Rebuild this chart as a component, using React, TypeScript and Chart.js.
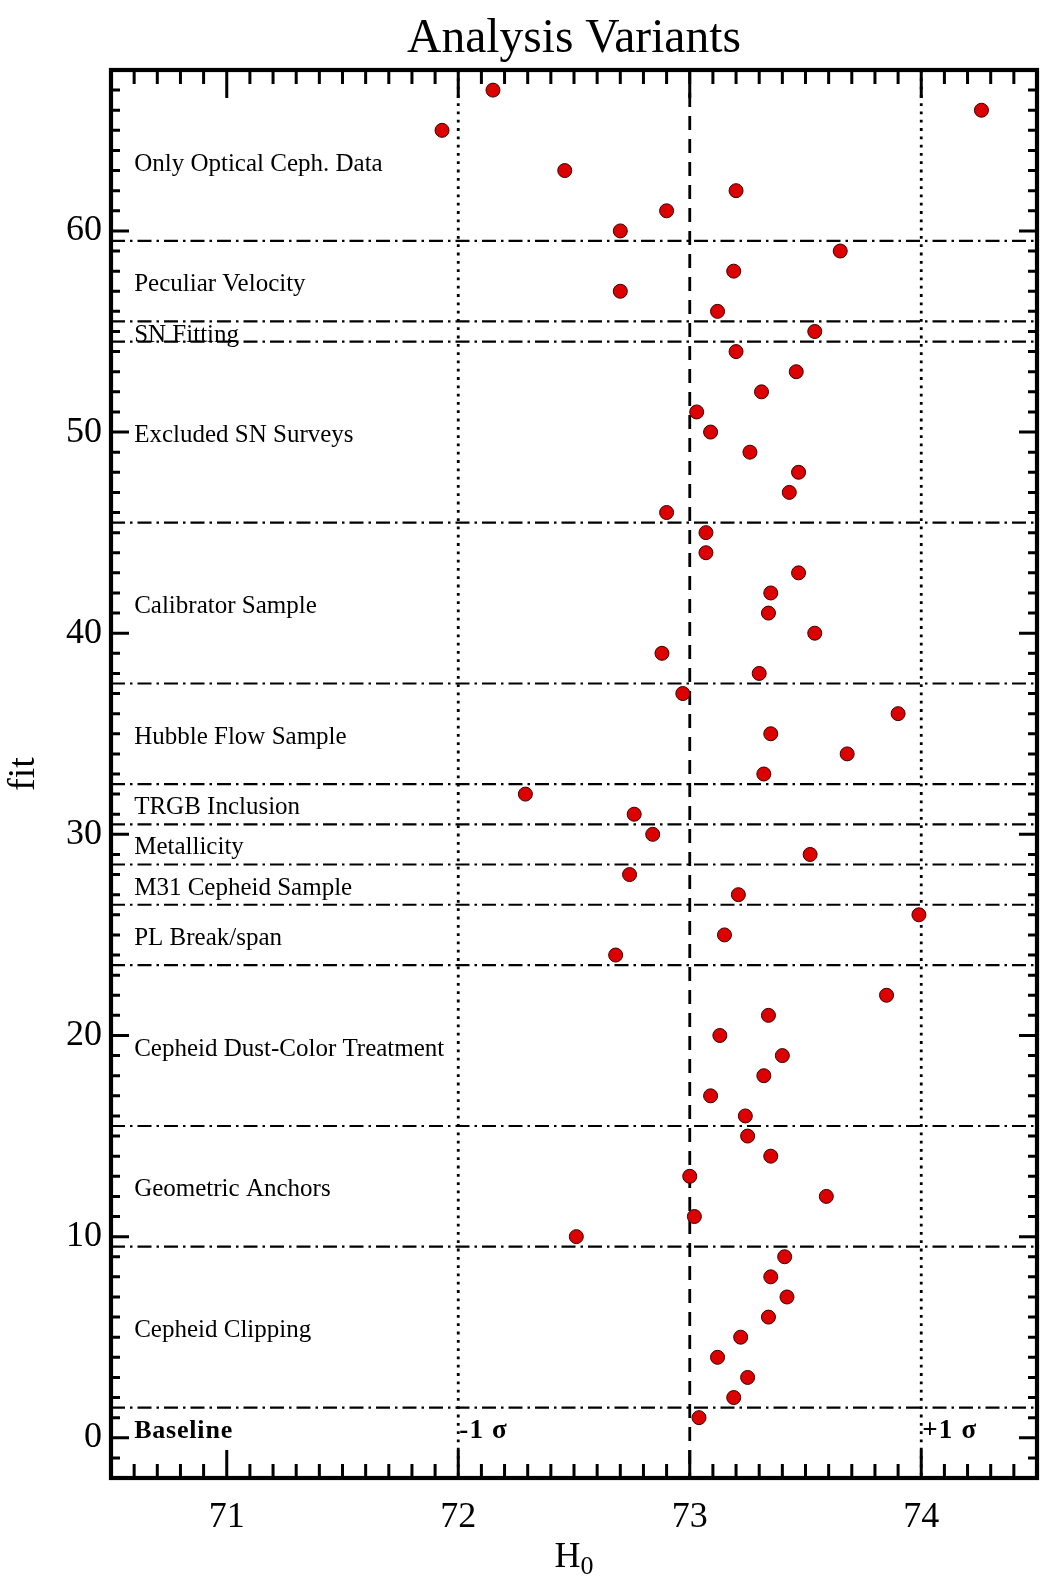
import React, { useEffect, useRef } from 'react';
import { Chart, registerables } from 'chart.js';

Chart.register(...registerables);

// ---- data ----
const fitNumbers = [
  1, 2, 3, 4, 5, 6, 7, 8, 9, 10, 11, 12, 13, 14, 15, 16, 17, 18, 19, 20, 21, 22,
  24, 25, 26, 27, 28, 29, 30, 31, 32, 33, 34, 35, 36, 37, 38, 39, 40, 41, 42, 43,
  44, 45, 46, 47, 48, 49, 50, 51, 52, 53, 54, 55, 56, 57, 58, 59, 60, 61, 62, 63,
  65, 66, 67,
];
const h0Values = [
  73.04, 73.19, 73.25, 73.12, 73.22, 73.34, 73.42, 73.35, 73.41, 72.51, 73.02,
  73.59, 73.0, 73.35, 73.25, 73.24, 73.09, 73.32, 73.4, 73.13, 73.34, 73.85,
  72.68, 73.15, 73.99, 73.21, 72.74, 73.52, 72.84, 72.76, 72.29, 73.32, 73.68,
  73.35, 73.9, 72.97, 73.3, 72.88, 73.54, 73.34, 73.35, 73.47, 73.07, 73.07,
  72.9, 73.43, 73.47, 73.26, 73.09, 73.03, 73.31, 73.46, 73.2, 73.54, 73.12,
  72.7, 73.19, 73.65, 72.7, 72.9, 73.2, 72.46, 71.93, 74.26, 72.15,
];

const categoryNames = [
  'Baseline',
  'Cepheid Clipping',
  'Geometric Anchors',
  'Cepheid Dust-Color Treatment',
  'PL Break/span',
  'M31 Cepheid Sample',
  'Metallicity',
  'TRGB Inclusion',
  'Hubble Flow Sample',
  'Calibrator Sample',
  'Excluded SN Surveys',
  'SN Fitting',
  'Peculiar Velocity',
  'Only Optical Ceph. Data',
];
const categoryFirstFit = [0, 2, 10, 16, 24, 27, 29, 31, 33, 38, 46, 55, 56, 60];
const categoryLastFit = [1, 9, 15, 23, 26, 28, 30, 32, 37, 45, 54, 55, 59, 67];

const centralH0 = 73;
const sigmaH0 = 1;
const sigmaLabels = ['-1 σ', '+1 σ'];

const xTickValues = [71, 72, 73, 74];
const yTickValues = [0, 10, 20, 30, 40, 50, 60];
const xRange = [70.5, 74.5];
const yRange = [-2, 68];

const titleText = 'Analysis Variants';
const xTitle = 'H';
const xTitleSub = '0';
const yTitle = 'fit';

const SERIF = '"Liberation Serif", "Times New Roman", serif';

const overlayPlugin = {
  id: 'overlay',
  beforeDatasetsDraw(chart: any) {
    const { ctx, chartArea: a, scales } = chart;
    const xs = scales.x;
    const ys = scales.y;
    ctx.save();
    ctx.beginPath();
    ctx.rect(a.left, a.top, a.right - a.left, a.bottom - a.top);
    ctx.clip();
    ctx.strokeStyle = '#000';
    ctx.lineCap = 'butt';
    // category separators (dash-dot)
    ctx.lineWidth = 2.2;
    ctx.setLineDash([14, 5, 2.5, 5]);
    for (let i = 1; i < categoryFirstFit.length; i++) {
      const y = ys.getPixelForValue(categoryFirstFit[i] - 0.5);
      ctx.beginPath();
      ctx.moveTo(a.left, y);
      ctx.lineTo(a.right, y);
      ctx.stroke();
    }
    // central dashed
    ctx.lineWidth = 2.8;
    ctx.setLineDash([14, 9]);
    const x = xs.getPixelForValue(centralH0);
    ctx.beginPath();
    ctx.moveTo(x, a.top);
    ctx.lineTo(x, a.bottom);
    ctx.stroke();
    // sigma dotted
    ctx.lineWidth = 2.8;
    ctx.setLineDash([2.8, 5.5]);
    [centralH0 - sigmaH0, centralH0 + sigmaH0].forEach((v) => {
      const px = xs.getPixelForValue(v);
      ctx.beginPath();
      ctx.moveTo(px, a.top);
      ctx.lineTo(px, a.bottom);
      ctx.stroke();
    });
    ctx.restore();
  },
  afterDatasetsDraw(chart: any) {
    const { ctx, chartArea: a, scales } = chart;
    const xs = scales.x;
    const ys = scales.y;
    ctx.save();
    ctx.fillStyle = '#000';
    ctx.strokeStyle = '#000';
    ctx.setLineDash([]);

    // ticks
    ctx.lineWidth = 3;
    const xMajorLen = 28;
    const xMinorLen = 14;
    const yMajorLen = 18;
    const yMinorLen = 9;
    for (let k = 0; k <= 40; k++) {
      const v = xRange[0] + k * 0.1;
      const px = xs.getPixelForValue(v);
      const isMajor = Math.abs(v - Math.round(v)) < 1e-6;
      const len = isMajor ? xMajorLen : xMinorLen;
      ctx.beginPath();
      ctx.moveTo(px, a.bottom);
      ctx.lineTo(px, a.bottom - len);
      ctx.moveTo(px, a.top);
      ctx.lineTo(px, a.top + len);
      ctx.stroke();
    }
    for (let v = yRange[0]; v <= yRange[1]; v++) {
      const py = ys.getPixelForValue(v);
      const len = v % 10 === 0 ? yMajorLen : yMinorLen;
      ctx.beginPath();
      ctx.moveTo(a.left, py);
      ctx.lineTo(a.left + len, py);
      ctx.moveTo(a.right, py);
      ctx.lineTo(a.right - len, py);
      ctx.stroke();
    }
    // frame
    ctx.lineWidth = 4.2;
    ctx.strokeRect(a.left, a.top, a.right - a.left, a.bottom - a.top);

    // category labels
    ctx.textAlign = 'left';
    ctx.textBaseline = 'alphabetic';
    const labelX = xs.getPixelForValue(xRange[0] + 0.1);
    categoryNames.forEach((name, i) => {
      const yv = (categoryFirstFit[i] + categoryLastFit[i] - 1) / 2;
      const py = ys.getPixelForValue(yv);
      if (i === 0) {
        ctx.font = `bold 26px ${SERIF}`;
        (ctx as any).letterSpacing = '0.8px';
        ctx.fillText(name, labelX, py);
        (ctx as any).letterSpacing = '0px';
      } else {
        ctx.font = `25px ${SERIF}`;
        ctx.fillText(name, labelX, py);
      }
    });
    // sigma labels
    ctx.font = `bold 27px ${SERIF}`;
    (ctx as any).letterSpacing = '1.2px';
    const y0 = ys.getPixelForValue(categoryFirstFit[0]);
    ctx.fillText(sigmaLabels[0], xs.getPixelForValue(centralH0 - sigmaH0) + 1, y0);
    ctx.fillText(sigmaLabels[1], xs.getPixelForValue(centralH0 + sigmaH0) + 1, y0);
    (ctx as any).letterSpacing = '0px';

    // title
    const cx = (a.left + a.right) / 2;
    ctx.font = `47.5px ${SERIF}`;
    ctx.textAlign = 'center';
    ctx.fillText(titleText, cx, 52);

    // x title H0
    ctx.font = `36px ${SERIF}`;
    const hW = ctx.measureText(xTitle).width;
    ctx.font = `26px ${SERIF}`;
    const sW = ctx.measureText(xTitleSub).width;
    const startX = cx - (hW + sW) / 2;
    ctx.textAlign = 'left';
    ctx.font = `36px ${SERIF}`;
    ctx.fillText(xTitle, startX, 1567);
    ctx.font = `26px ${SERIF}`;
    ctx.fillText(xTitleSub, startX + hW, 1574);

    // y title
    ctx.save();
    ctx.translate(34, (a.top + a.bottom) / 2);
    ctx.rotate(-Math.PI / 2);
    ctx.textAlign = 'center';
    ctx.font = `38px ${SERIF}`;
    ctx.fillText(yTitle, 0, 0);
    ctx.restore();

    ctx.restore();
  },
};

export default function App() {
  const canvasRef = useRef<HTMLCanvasElement | null>(null);

  useEffect(() => {
    const canvas = canvasRef.current;
    if (!canvas) return;
    const points = fitNumbers.map((f, i) => ({ x: h0Values[i], y: f }));
    const chart = new Chart(canvas, {
      type: 'scatter',
      data: {
        datasets: [
          {
            data: points,
            pointRadius: 7,
            pointHoverRadius: 7,
            pointBackgroundColor: '#dd0000',
            pointBorderColor: '#3a0000',
            pointBorderWidth: 1,
            showLine: false,
          },
        ],
      },
      options: {
        responsive: false,
        maintainAspectRatio: false,
        devicePixelRatio: 1,
        animation: false,
        events: [],
        layout: { padding: { top: 70, right: 26, left: 0, bottom: 0 } },
        plugins: {
          legend: { display: false },
          tooltip: { enabled: false },
          title: { display: false },
        },
        scales: {
          x: {
            type: 'linear',
            min: xRange[0],
            max: xRange[1],
            grid: { display: false, drawTicks: false },
            border: { display: false },
            ticks: {
              font: { family: SERIF, size: 36 },
              color: '#000',
              padding: 18,
              maxRotation: 0,
              callback: (v: any) => String(v),
            },
            afterBuildTicks: (s: any) => {
              s.ticks = xTickValues.map((v) => ({ value: v }));
            },
            afterFit: (s: any) => {
              s.height = 102;
            },
          },
          y: {
            type: 'linear',
            min: yRange[0],
            max: yRange[1],
            grid: { display: false, drawTicks: false },
            border: { display: false },
            ticks: {
              font: { family: SERIF, size: 36 },
              color: '#000',
              padding: 9,
              callback: (v: any) => String(v),
            },
            afterBuildTicks: (s: any) => {
              s.ticks = yTickValues.map((v) => ({ value: v }));
            },
            afterFit: (s: any) => {
              s.width = 111;
            },
          },
        },
      },
      plugins: [overlayPlugin],
    } as any);
    return () => chart.destroy();
  }, []);

  return (
    <div style={{ position: 'absolute', left: 0, top: 0, width: 1063, height: 1580, background: '#fff' }}>
      <canvas ref={canvasRef} width={1063} height={1580} style={{ width: 1063, height: 1580, display: 'block' }} />
    </div>
  );
}
